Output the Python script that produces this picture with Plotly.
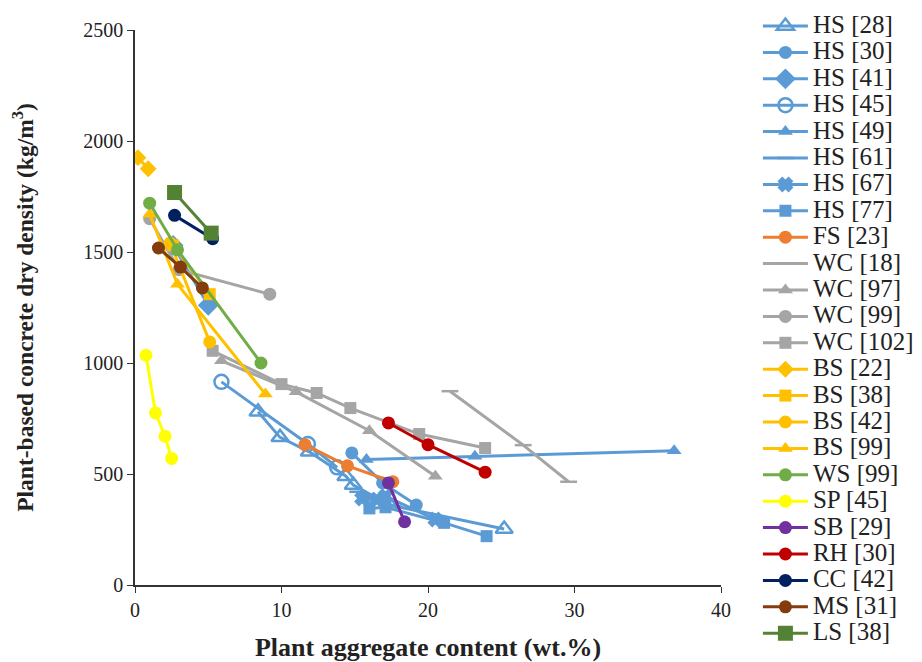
import plotly.graph_objects as go

# ---- data (wt.% , kg/m3) ----
hs28_x = [8.4, 9.9, 11.9, 14.4, 14.9, 17.4, 25.2]
hs28_y = [780, 665, 600, 490, 450, 360, 252]
hs30_x = [14.8, 16.9, 19.2]
hs30_y = [595, 460, 360]
hs41_x = [2.6, 5.0]
hs41_y = [1530, 1260]
hs45_x = [5.9, 11.8, 13.8]
hs45_y = [915, 635, 530]
hs49_x = [15.8, 23.2, 36.8]
hs49_y = [565, 580, 605]
hs61_x = [15.2, 16.3, 17.6]
hs61_y = [420, 385, 355]
hs67_x = [15.5, 16.5, 17.1, 20.5]
hs67_y = [390, 385, 400, 295]
hs77_x = [16.0, 17.1, 21.1, 24.0]
hs77_y = [345, 350, 280, 220]
fs23_x = [11.6, 14.5, 17.6]
fs23_y = [632, 537, 465]
wc18_x = [21.5, 26.5, 29.6]
wc18_y = [873, 630, 465]
wc97_x = [5.9, 11.0, 16.0, 20.5]
wc97_y = [1010, 870, 695, 490]
wc99_x = [1.0, 3.0, 9.2]
wc99_y = [1650, 1420, 1310]
wc102_x = [5.3, 10.0, 12.4, 14.7, 19.4, 23.9]
wc102_y = [1055, 905, 865, 797, 680, 617]
bs22_x = [0.2, 0.9]
bs22_y = [1925, 1875]
bs38_x = [2.6, 5.1]
bs38_y = [1530, 1310]
bs42_x = [2.4, 5.1]
bs42_y = [1540, 1095]
bs99_x = [1.0, 2.9, 8.9]
bs99_y = [1670, 1355, 860]
ws99_x = [1.0, 2.9, 8.6]
ws99_y = [1720, 1510, 1000]
sp45_x = [0.75, 1.4, 2.05, 2.5]
sp45_y = [1035, 775, 670, 570]
sb29_x = [17.3, 18.4]
sb29_y = [460, 285]
rh30_x = [17.3, 20.0, 23.9]
rh30_y = [730, 632, 508]
cc42_x = [2.7, 5.3]
cc42_y = [1665, 1560]
ms31_x = [1.6, 3.1, 4.6]
ms31_y = [1518, 1432, 1338]
ls38_x = [2.7, 5.2]
ls38_y = [1768, 1585]

x_ticks = [0, 10, 20, 30, 40]
y_ticks = [0, 500, 1000, 1500, 2000, 2500]

BLUE = "#5B9BD5"
ORANGE = "#ED7D31"
GREY = "#A5A5A5"
GOLD = "#FFC000"
GREEN = "#70AD47"
YELLOW = "#FFFF00"
PURPLE = "#7030A0"
RED = "#C00000"
NAVY = "#002060"
BROWN = "#843C0C"
DKGREEN = "#548235"

series = [
    ("HS [28]", hs28_x, hs28_y, BLUE, "triangle-up-open", 15),
    ("HS [30]", hs30_x, hs30_y, BLUE, "circle", 13),
    ("HS [41]", hs41_x, hs41_y, BLUE, "diamond", 16),
    ("HS [45]", hs45_x, hs45_y, BLUE, "circle-open", 14),
    ("HS [49]", hs49_x, hs49_y, BLUE, "triangle-up", 13),
    ("HS [61]", hs61_x, hs61_y, BLUE, "line-ew", 12),
    ("HS [67]", hs67_x, hs67_y, BLUE, "x", 11),
    ("HS [77]", hs77_x, hs77_y, BLUE, "square", 12),
    ("FS [23]", fs23_x, fs23_y, ORANGE, "circle", 13),
    ("WC [18]", wc18_x, wc18_y, GREY, "line-ew", 12),
    ("WC [97]", wc97_x, wc97_y, GREY, "triangle-up", 13),
    ("WC [99]", wc99_x, wc99_y, GREY, "circle", 13),
    ("WC [102]", wc102_x, wc102_y, GREY, "square", 12),
    ("BS [22]", bs22_x, bs22_y, GOLD, "diamond", 13),
    ("BS [38]", bs38_x, bs38_y, GOLD, "square", 12),
    ("BS [42]", bs42_x, bs42_y, GOLD, "circle", 13),
    ("BS [99]", bs99_x, bs99_y, GOLD, "triangle-up", 13),
    ("WS [99]", ws99_x, ws99_y, GREEN, "circle", 13),
    ("SP [45]", sp45_x, sp45_y, YELLOW, "circle", 13),
    ("SB [29]", sb29_x, sb29_y, PURPLE, "circle", 13),
    ("RH [30]", rh30_x, rh30_y, RED, "circle", 13),
    ("CC [42]", cc42_x, cc42_y, NAVY, "circle", 13),
    ("MS [31]", ms31_x, ms31_y, BROWN, "circle", 13),
    ("LS [38]", ls38_x, ls38_y, DKGREEN, "square", 15),
]

fig = go.Figure()
for name, xs, ys, col, sym, sz in series:
    lw = 2.5 if sym.endswith("open") or sym in ("line-ew", "x") else 0
    fig.add_trace(go.Scatter(
        x=xs, y=ys, mode="lines+markers",
        name='<span style="font-size:25px">' + name + '</span>',
        line=dict(color=col, width=3),
        marker=dict(symbol=sym, size=sz, color=col,
                    line=dict(color=col, width=lw)),
    ))

font_serif = "Liberation Serif, Times New Roman, serif"
fig.update_layout(
    width=922, height=662,
    margin=dict(l=127, r=209, t=22, b=85, autoexpand=False),
    paper_bgcolor="white", plot_bgcolor="white",
    font=dict(family=font_serif, color="#222222", size=20),
    showlegend=True,
    legend=dict(x=1.063, y=1.04, xanchor="left", yanchor="top",
                maxheight=660,
                font=dict(family=font_serif, size=18, color="#222222"),
                itemwidth=45, tracegroupgap=0, bgcolor="rgba(0,0,0,0)"),
    xaxis=dict(range=[0, 40], tickvals=x_ticks, showline=True, linecolor="#333333",
               linewidth=1.5, ticks="outside", ticklen=6, tickcolor="#333333",
               showgrid=False, zeroline=False, tickfont=dict(size=20),
               automargin=False,
               title=dict(text="<b>Plant aggregate content (wt.%)</b>",
                          font=dict(size=26), standoff=18)),
    yaxis=dict(range=[0, 2500], tickvals=y_ticks, showline=True, linecolor="#333333",
               linewidth=1.5, ticks="outside", ticklen=6, tickcolor="#333333",
               showgrid=False, zeroline=False, tickfont=dict(size=20),
               automargin=False,
               title=dict(text="<b>Plant-based concrete dry density (kg/m<sup>3</sup>)</b>",
                          font=dict(size=23.5), standoff=48)),
)

fig.write_html("out.html")
